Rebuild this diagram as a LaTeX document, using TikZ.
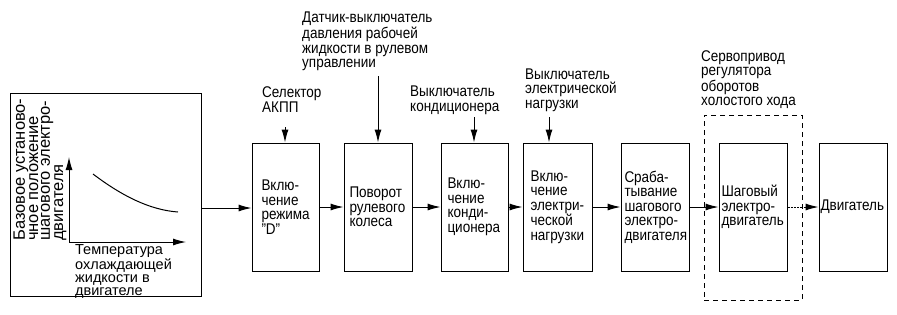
\documentclass[tikz,border=0pt]{standalone}
\usepackage{fontspec}
\setmainfont{Liberation Sans}[FakeStretch=0.87]
\newfontfamily\widesans{Liberation Sans}
\usetikzlibrary{arrows.meta}
\tikzset{
  txt/.style={font=\fontsize{15.5}{14.5}\selectfont, inner sep=0pt, align=left},
  blk/.style={draw, line width=1pt, minimum height=128pt, inner ysep=0pt, align=left, font=\fontsize{15.5}{14.5}\selectfont},
  arr/.style={line width=1pt, -{Latex[length=13pt,width=7pt]}},
  ln/.style={line width=1pt}
}
\begin{document}
\begin{tikzpicture}[x=1pt,y=-1pt]
\useasboundingbox (0,0) rectangle (897,314);
% left graph box
\node[draw, line width=1pt, minimum width=191pt, minimum height=203pt, inner sep=0pt] (graph) at (105.5,194.5) {};
\coordinate (o) at (69,242);
\coordinate (ytop) at (69,157);
\coordinate (xend) at (186,242);
\draw[arr] (o) -- (ytop);
\draw[arr] (o) -- (xend);
\coordinate (c1) at (93,174);
\coordinate (c2) at (178,212);
\draw[ln] (c1) .. controls (122,196) and (150,210) .. (c2);
\node[txt, font=\widesans\fontsize{16.5}{11.8}\selectfont, rotate=90, anchor=west] (ylab) at (40,241)
  {Базовое установо-\\чное положение\\шагового электро-\\двигателя};
\node[txt, font=\widesans\fontsize{14.5}{13.3}\selectfont, anchor=west] (xlab) at (75,271.5)
  {Температура\\охлаждающей\\жидкости в\\двигателе};
% blocks
\node[blk, minimum width=67pt, inner xsep=9pt, text width=48pt] (b1) at (285.5,207) {Вклю-\\чение\\режима\\"D"};
\node[blk, minimum width=68pt, inner xsep=5pt, text width=57pt] (b2) at (378,207) {Поворот\\рулевого\\колеса};
\node[blk, minimum width=67pt, inner xsep=6pt, text width=54pt] (b3) at (474.5,207) {Вклю-\\чение\\конди-\\ционера};
\node[blk, minimum width=69pt, inner xsep=7pt, text width=54pt] (b4) at (557.5,207) {Вклю-\\чение\\электри-\\ческой\\нагрузки};
\node[blk, minimum width=68pt, inner xsep=3pt, text width=61pt] (b5) at (655,207) {Сраба-\\тывание\\шагового\\электро-\\двигателя};
\node[blk, minimum width=68pt, inner xsep=2pt, text width=63pt] (b6) at (753,207) {Шаговый\\электро-\\двигатель};
\node[blk, minimum width=68pt, inner xsep=1pt, text width=65pt] (b7) at (853,207) {Двигатель};
\node[draw, line width=1pt, dash pattern=on 5pt off 4pt, minimum width=98pt, minimum height=185pt, inner sep=0pt] (servo) at (753,207.5) {};
% flow arrows
\draw[arr] (graph.east |- 0,208) coordinate (g1) -- (b1.west |- g1);
\draw[arr] (b1) -- (b2);
\draw[arr] (b2) -- (b3);
\draw[arr] (b3) -- (b4);
\draw[arr] (b4) -- (b5);
\draw[arr] (b5) -- (b6);
\draw[arr, dash pattern=on 2pt off 1.2pt] (b6) -- (b7);
% top inputs
\node[txt, anchor=west] (l1) at (262,99.5) {Селектор\\АКПП};
\node[txt, anchor=west] (l2) at (302,41.5) {Датчик-выключатель\\давления рабочей\\жидкости в рулевом\\управлении};
\node[txt, anchor=west] (l3) at (410,100.5) {Выключатель\\кондиционера};
\node[txt, anchor=west] (l4) at (525,90) {Выключатель\\электрической\\нагрузки};
\node[txt, anchor=west] (l5) at (701,79.5) {Сервопривод\\регулятора\\оборотов\\холостого хода};
\coordinate (s1) at (285,127);
\coordinate (s2) at (378,76);
\coordinate (s3) at (474,117);
\coordinate (s4) at (549,117);
\draw[arr] (s1) -- (s1 |- b1.north);
\draw[arr] (s2) -- (s2 |- b2.north);
\draw[arr] (s3) -- (s3 |- b3.north);
\draw[arr] (s4) -- (s4 |- b4.north);
\end{tikzpicture}
\end{document}
